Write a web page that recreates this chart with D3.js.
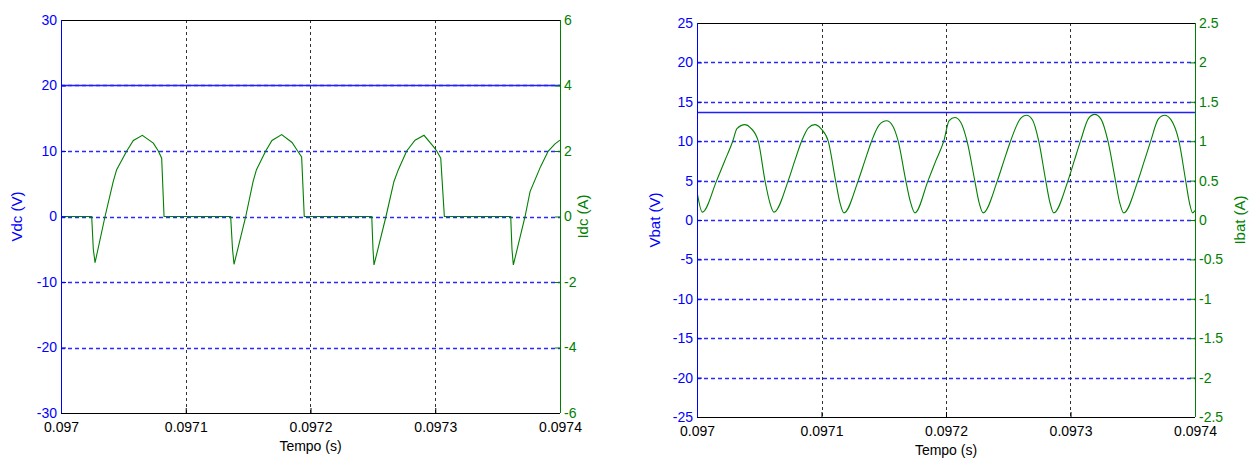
<!DOCTYPE html>
<html lang="en">
<head>
<meta charset="UTF-8">
<title>Vdc / Idc e Vbat / Ibat</title>
<script src="https://cdn.jsdelivr.net/npm/d3@7"></script>
<style>
    body {
        margin: 0;
        background: #ffffff;
        font-family: 'Liberation Sans', Arial, sans-serif;
    }
    svg { display: block; }
    .tick text { font-size: 14px; }
    .axis .domain { display: none; }
    .label { font-size: 14px; }
    .ylabel { font-size: 15px; }
</style>
</head>
<body>
<svg id="chart" width="1255" height="459"></svg>
<script>
// shared time axis (s)
var t0 = 0.097;
var xTicks = [0.097, 0.0971, 0.0972, 0.0973, 0.0974];
var xTickLabels = ["0.097", "0.0971", "0.0972", "0.0973", "0.0974"];

// left panel: Vdc (V) / Idc (A)
var vdcTicks = [-30, -20, -10, 0, 10, 20, 30];
var idcTicks = [-6, -4, -2, 0, 2, 4, 6];
var vdcLevel = 20;
// time in microseconds after 0.097 s
var idcTimeUs = [0, 24.6, 25.9, 27.3, 35.3, 41.9, 44.6, 52.7, 58.0, 65.2, 74.0, 78.0, 80.7, 82.6,
    136.0, 137.5, 138.7, 148.1, 154.0, 156.7, 164.1, 169.1, 176.9, 185.2, 189.7, 192.9, 195.0,
    249.1, 250.1, 250.9, 260.5, 266.9, 270.4, 277.1, 283.8, 291.0, 298.4, 301.2, 304.4, 307.3,
    360.5, 361.5, 362.6, 372.0, 376.0, 384.5, 390.6, 396.0, 400];
var idcValues = [0, 0, -1.0, -1.41, 0, 1.07, 1.43, 2.0, 2.32, 2.48, 2.24, 2.0, 1.78, 0,
    0, -1.0, -1.46, 0, 1.07, 1.43, 2.0, 2.32, 2.5, 2.26, 2.0, 1.82, 0,
    0, -1.0, -1.48, 0, 1.07, 1.43, 2.0, 2.33, 2.48, 2.14, 2.0, 1.78, 0,
    0, -1.0, -1.48, 0, 0.76, 1.53, 2.0, 2.22, 2.33];

// right panel: Vbat (V) / Ibat (A)
var vbatTicks = [-25, -20, -15, -10, -5, 0, 5, 10, 15, 20, 25];
var ibatTicks = [-2.5, -2, -1.5, -1, -0.5, 0, 0.5, 1, 1.5, 2, 2.5];
var vbatLevel = 13.65;
var ibatTimeUs = [0, 4.3, 15.8, 22.0, 28.7, 32.1, 38.5, 43.0, 49.2, 54.6, 58.5,
    61.8, 73.3, 78.5, 84.0, 89.5, 94.7, 99.5, 105.4, 111.3, 114.8,
    118.0, 129.5, 134.8, 140.2, 146.5, 152.3, 157.0, 161.6, 167.7, 171.6,
    175.0, 185.6, 191.8, 198.2, 202.5, 207.1, 211.8, 216.9, 223.1, 226.6,
    229.8, 241.3, 246.5, 251.8, 259.5, 264.6, 269.5, 274.5, 280.1, 283.5,
    286.5, 298.0, 303.0, 308.0, 314.5, 319.4, 324.5, 330.1, 336.1, 339.5,
    342.7, 354.2, 359.3, 364.4, 370.5, 375.6, 380.8, 387.1, 392.5, 395.5,
    398.1, 400];
var ibatValues = [0.36, 0.10, 0.50, 0.74, 1.00, 1.16, 1.21, 1.17, 1.00, 0.50, 0.22,
    0.10, 0.50, 0.75, 1.00, 1.17, 1.21, 1.16, 1.00, 0.50, 0.22,
    0.09, 0.50, 0.75, 1.00, 1.21, 1.26, 1.20, 1.00, 0.50, 0.22,
    0.09, 0.50, 0.75, 1.00, 1.26, 1.30, 1.24, 1.00, 0.50, 0.22,
    0.09, 0.50, 0.75, 1.00, 1.28, 1.33, 1.27, 1.00, 0.50, 0.22,
    0.09, 0.50, 0.75, 1.00, 1.29, 1.34, 1.28, 1.00, 0.50, 0.22,
    0.09, 0.50, 0.75, 1.00, 1.28, 1.33, 1.27, 1.00, 0.50, 0.22,
    0.09, 0.12];

var BLUE = "#0000ff", GREEN = "#008000", BLACK = "#000000";
var GRIDBLUE = "#2a2aff";

var svg = d3.select("#chart");

// matlab-style labels: plain hyphen for negatives
var fmt = d => String(d).replace("\u2212", "-");
// snap a coordinate onto a pixel centre
var snap = v => Math.round(v) + 0.5;

function drawPanel(p) {
    var x = d3.scaleLinear().domain([xTicks[0], xTicks[xTicks.length - 1]]).range([p.left, p.right]);
    var yL = d3.scaleLinear().domain([p.yTicks[0], p.yTicks[p.yTicks.length - 1]]).range([p.bottom, p.top]);
    var yR = d3.scaleLinear().domain([p.y2Ticks[0], p.y2Ticks[p.y2Ticks.length - 1]]).range([p.bottom, p.top]);

    var g = svg.append("g");

    // horizontal grid (blue dashed)
    g.selectAll(".hgrid").data(p.yTicks.slice(1, -1)).enter().append("line")
        .attr("x1", p.left).attr("x2", p.right)
        .attr("y1", d => snap(yL(d))).attr("y2", d => snap(yL(d)))
        .attr("stroke", GRIDBLUE).attr("stroke-width", 1.3)
        .attr("stroke-dasharray", "4,3");

    // vertical grid (black dashed)
    g.selectAll(".vgrid").data(xTicks.slice(1, -1)).enter().append("line")
        .attr("x1", d => snap(x(d))).attr("x2", d => snap(x(d)))
        .attr("y1", p.top).attr("y2", p.bottom)
        .attr("stroke", "#333").attr("stroke-width", 1)
        .attr("stroke-dasharray", "3,3");

    var clipId = "clip" + p.id;
    svg.append("clipPath").attr("id", clipId).append("rect")
        .attr("x", p.left).attr("y", p.top)
        .attr("width", p.right - p.left).attr("height", p.bottom - p.top);

    var lines = g.append("g").attr("clip-path", "url(#" + clipId + ")");

    // voltage (constant)
    lines.append("line")
        .attr("x1", p.left).attr("x2", p.right)
        .attr("y1", snap(yL(p.vLevel))).attr("y2", snap(yL(p.vLevel)))
        .attr("stroke", "#2020ff").attr("stroke-width", 1.4);

    // current
    var data = p.iTime.map((t, i) => ({ t: t0 + t * 1e-6, v: p.iValues[i] }));
    lines.append("path")
        .datum(data)
        .attr("fill", "none")
        .attr("stroke", GREEN)
        .attr("stroke-width", 1.1)
        .attr("d", d3.line().x(d => x(d.t)).y(d => yR(d.v)).curve(p.curve));

    // axes
    g.append("g").attr("class", "axis")
        .attr("transform", "translate(0," + p.bottom + ")")
        .call(d3.axisBottom(x).tickValues(xTicks).tickFormat((d, i) => xTickLabels[i])
            .tickSizeInner(-5).tickSizeOuter(0).tickPadding(9))
        .call(a => a.selectAll(".tick line").attr("stroke", BLACK))
        .call(a => a.selectAll(".tick text").attr("fill", BLACK));

    g.append("g").attr("class", "axis")
        .attr("transform", "translate(" + p.left + ",0)")
        .call(d3.axisLeft(yL).tickValues(p.yTicks).tickFormat(fmt).tickSizeInner(-5).tickSizeOuter(0).tickPadding(4))
        .call(a => a.selectAll(".tick line").attr("stroke", BLUE))
        .call(a => a.selectAll(".tick text").attr("fill", BLUE));

    g.append("g").attr("class", "axis")
        .attr("transform", "translate(" + p.right + ",0)")
        .call(d3.axisRight(yR).tickValues(p.y2Ticks).tickFormat(fmt).tickSizeInner(-5).tickSizeOuter(0).tickPadding(4))
        .call(a => a.selectAll(".tick line").attr("stroke", GREEN))
        .call(a => a.selectAll(".tick text").attr("fill", GREEN));

    // frame
    g.append("line").attr("x1", p.left).attr("x2", p.right).attr("y1", p.top).attr("y2", p.top)
        .attr("stroke", BLACK).attr("shape-rendering", "crispEdges");
    g.append("line").attr("x1", p.left).attr("x2", p.right).attr("y1", p.bottom).attr("y2", p.bottom)
        .attr("stroke", BLACK).attr("shape-rendering", "crispEdges");
    g.append("line").attr("x1", p.left).attr("x2", p.left).attr("y1", p.top).attr("y2", p.bottom)
        .attr("stroke", BLUE).attr("shape-rendering", "crispEdges");
    g.append("line").attr("x1", p.right).attr("x2", p.right).attr("y1", p.top).attr("y2", p.bottom)
        .attr("stroke", GREEN).attr("shape-rendering", "crispEdges");

    // labels
    var midY = (p.top + p.bottom) / 2;
    g.append("text").attr("class", "ylabel")
        .attr("transform", "translate(" + p.yLabelX + "," + midY + ") rotate(-90)")
        .attr("text-anchor", "middle").attr("dy", "0.35em")
        .attr("fill", BLUE).text(p.yLabel);
    g.append("text").attr("class", "ylabel")
        .attr("transform", "translate(" + p.y2LabelX + "," + midY + ") rotate(-90)")
        .attr("text-anchor", "middle").attr("dy", "0.35em")
        .attr("fill", GREEN).text(p.y2Label);
    g.append("text").attr("class", "label")
        .attr("x", (p.left + p.right) / 2).attr("y", p.xLabelY)
        .attr("text-anchor", "middle").attr("fill", BLACK)
        .text("Tempo (s)");
}

drawPanel({
    id: "L", left: 61, right: 560, top: 20, bottom: 413,
    yTicks: vdcTicks, y2Ticks: idcTicks, vLevel: vdcLevel,
    iTime: idcTimeUs, iValues: idcValues, curve: d3.curveLinear,
    yLabel: "Vdc (V)", y2Label: "Idc (A)", yLabelX: 17, y2LabelX: 583, xLabelY: 451
});

drawPanel({
    id: "R", left: 697, right: 1195, top: 23, bottom: 417,
    yTicks: vbatTicks, y2Ticks: ibatTicks, vLevel: vbatLevel,
    iTime: ibatTimeUs, iValues: ibatValues, curve: d3.curveMonotoneX,
    yLabel: "Vbat (V)", y2Label: "Ibat (A)", yLabelX: 655, y2LabelX: 1240, xLabelY: 455
});
</script>
</body>
</html>
